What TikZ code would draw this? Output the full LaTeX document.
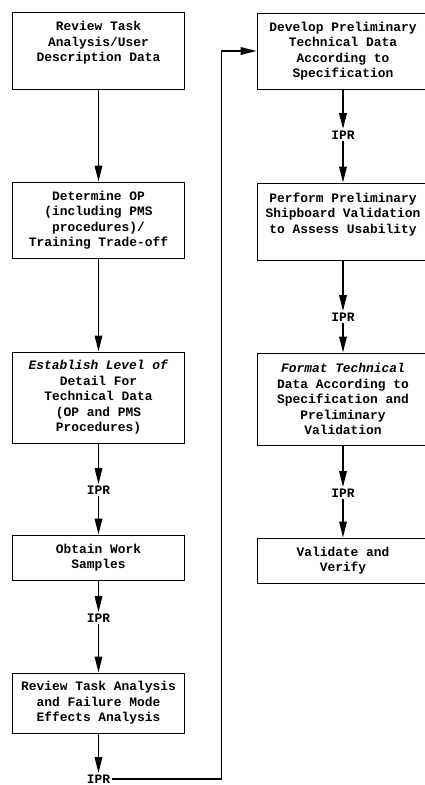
\documentclass[tikz,border=0pt]{standalone}
\usepackage{fontspec}
\setmonofont{Liberation Mono}
\usetikzlibrary{arrows.meta, positioning}

\begin{document}
\begin{tikzpicture}[x=1pt, y=-1pt,
    font=\ttfamily\bfseries\fontsize{12.9}{15.5}\selectfont,
    box/.style={draw, line width=0.9pt, align=center, minimum width=172pt, inner sep=2pt},
    ipr/.style={inner sep=1.5pt},
    flow/.style={line width=1.8pt, -{Triangle[length=16pt, width=7.5pt]}}]
  \useasboundingbox (0,0) rectangle (425,785);
  % left column
  \node[box, minimum height=77pt] (task) at (98.5,50.5) {Review Task\\Analysis/User\\Description Data\\[2pt]\mbox{}};
  \node[box, minimum height=76pt] (op) at (98.5,220) {Determine OP\\(including PMS\\procedures)/\\Training Trade-off};
  \node[box, minimum height=91pt] (level) at (98.5,397.5) {\textit{Establish Level of}\\Detail For\\Technical Data\\(OP and PMS\\Procedures)};
  \node[ipr] (ipr1) at (98.5,490) {IPR};
  \node[box, minimum height=45pt] (work) at (98.5,557.5) {Obtain Work\\Samples};
  \node[ipr] (ipr2) at (98.5,618) {IPR};
  \node[box, minimum height=60pt] (fmea) at (98.5,703) {Review Task Analysis\\and Failure Mode\\Effects Analysis};
  \node[ipr] (ipr3) at (98.5,779) {IPR};
  % right column
  \node[box, minimum height=76pt] (develop) at (343,51) {Develop Preliminary\\Technical Data\\According to\\Specification};
  \node[ipr] (ipr4) at (343,135) {IPR};
  \node[box, minimum height=77pt] (ship) at (343,221.5) {Perform Preliminary\\Shipboard Validation\\to Assess Usability\\[2pt]\mbox{}};
  \node[ipr] (ipr5) at (343,317) {IPR};
  \node[box, minimum height=92pt] (format) at (343,399) {\textit{Format Technical}\\Data According to\\Specification and\\Preliminary\\Validation};
  \node[ipr] (ipr6) at (343,493) {IPR};
  \node[box, minimum height=45pt] (verify) at (343,560.5) {Validate and\\Verify};

  \draw[flow] (task) -- (op);
  \draw[flow] (op) -- (level);
  \draw[flow] (level) -- (ipr1);
  \draw[flow] (ipr1) -- (work);
  \draw[flow] (work) -- (ipr2);
  \draw[flow] (ipr2) -- (fmea);
  \draw[flow] (fmea) -- (ipr3);
  \draw[flow] (ipr3.east) -| ([xshift=-35pt]develop.west) -- (develop.west);
  \draw[flow] (develop) -- (ipr4);
  \draw[flow] (ipr4) -- (ship);
  \draw[flow] (ship) -- (ipr5);
  \draw[flow] (ipr5) -- (format);
  \draw[flow] (format) -- (ipr6);
  \draw[flow] (ipr6) -- (verify);
\end{tikzpicture}
\end{document}
